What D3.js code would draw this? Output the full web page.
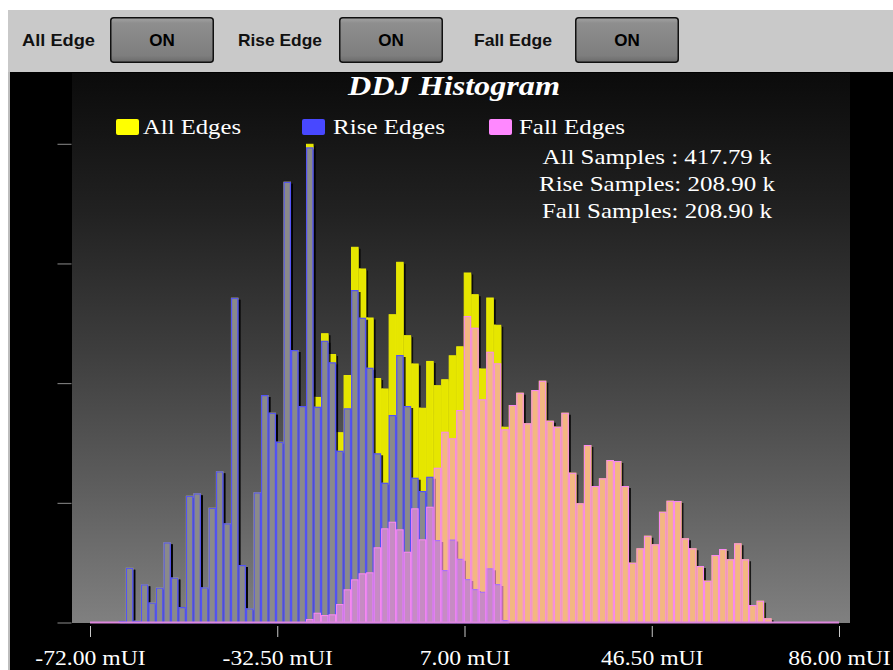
<!DOCTYPE html>
<html><head><meta charset="utf-8">
<script src="https://cdn.jsdelivr.net/npm/d3@7"></script>
<style>html,body{margin:0;padding:0;background:#fff;} svg{display:block;}</style>
</head><body><svg id="c" width="893" height="670"></svg>
<script>
// ---------------- DATA ----------------
const binStart = -66.03;   // mUI, left edge of first bin
const binWidth = 1.584;    // mUI per bin
const riseEdges = [42,1534,50,1070,560,980,2246,1260,434,3550,
  3618,986,3214,4234,2778,9094,1610,398,3646,6370,
  5874,5062,12342,7630,6062,13306,6042,7890,7286,4810,
  5998,9310,8534,7134,4738,3914,5810,7490,6062,4054,
  3682,4082,2310,1470,2324,1784,1218,938,862,1518,
  1078,70,0,0,0,0,0,0,0,0,
  0,0,0,0,0,0,0,0,0,0,
  0,0,0,0,0,0,0,0,0,0,
  0,0,0,0,0,0,0];
const fallEdges = [0,0,0,0,0,0,0,0,0,0,
  0,0,0,0,0,0,0,0,0,0,
  0,0,0,0,0,98,274,210,230,518,
  930,1210,1378,1406,2106,2638,2822,2610,1982,3198,
  2330,3242,4334,5342,5158,5950,8582,8254,6250,7582,
  7258,5410,6090,6434,5578,6510,6770,5650,5482,5874,
  4194,3338,4970,3822,4038,4550,4522,3822,1674,2078,
  2430,2190,3102,3410,3402,2358,2078,1582,1170,1890,
  2058,1770,2218,1770,490,610,118];
const allEdges = [42,1534,50,1070,560,980,2246,1260,434,3550,
  3618,986,3214,4234,2778,9094,1610,398,3646,6370,
  5874,5062,12342,7630,6062,13404,6316,8100,7516,5328,
  6928,10520,9912,8540,6844,6552,8632,10100,8044,7252,
  6012,7324,6644,6812,7482,7734,9800,9192,7112,9100,
  8336,5480,6090,6434,5578,6510,6770,5650,5482,5874,
  4194,3338,4970,3822,4038,4550,4522,3822,1674,2078,
  2430,2190,3102,3410,3402,2358,2078,1582,1170,1890,
  2058,1770,2218,1770,490,610,118];
const xDomain = [-72, 86];
const xTicks = [-72, -32.5, 7, 46.5, 86];
const yTickFractions = [0, 0.25, 0.5, 0.75, 1];
const toggleLabels = ["All Edge", "Rise Edge", "Fall Edge"];
const toggleStates = ["ON", "ON", "ON"];
const seriesNames = ["All Edges", "Rise Edges", "Fall Edges"];
const statLines = ["All Samples : 417.79 k", "Rise Samples: 208.90 k", "Fall Samples: 208.90 k"];
const chartTitle = "DDJ Histogram";

// ---------------- DRAW ----------------
const svg = d3.select("#c");
const defs = svg.append("defs");
const bgGrad = defs.append("linearGradient").attr("id","bg").attr("x1",0).attr("y1",0).attr("x2",0).attr("y2",1);
[[0,"#0b0b0b"],[0.25,"#212121"],[0.5,"#3d3d3d"],[0.75,"#5d5d5d"],[1,"#808080"]]
  .forEach(s => bgGrad.append("stop").attr("offset",s[0]).attr("stop-color",s[1]));
const btnGrad = defs.append("linearGradient").attr("id","btn").attr("x1",0).attr("y1",0).attr("x2",0).attr("y2",1);
[[0,"#a4a4a4"],[0.12,"#8e8e8e"],[0.85,"#7e7e7e"],[1,"#6a6a6a"]]
  .forEach(s => btnGrad.append("stop").attr("offset",s[0]).attr("stop-color",s[1]));
const f = defs.append("filter").attr("id","sh").attr("filterUnits","userSpaceOnUse")
  .attr("x",60).attr("y",60).attr("width",820).attr("height",580);
f.append("feDropShadow").attr("dx",2).attr("dy",2).attr("stdDeviation",0.6)
  .attr("flood-color","#000").attr("flood-opacity",0.8);

// top toolbar
svg.append("rect").attr("x",8).attr("y",10).attr("width",885).attr("height",62).attr("fill","#c9c9c9");
const labelX = [22, 238, 474], buttonX = [110, 339, 575], labelW = [73, 84, 78];
toggleLabels.forEach((t,i) => {
  svg.append("text").attr("x",labelX[i]).attr("y",46).text(t)
    .attr("font-family","'Liberation Sans', Arial, sans-serif").attr("font-weight","bold")
    .attr("font-size",17).attr("fill","#111")
    .attr("textLength",labelW[i]).attr("lengthAdjust","spacingAndGlyphs");
  svg.append("rect").attr("x",buttonX[i]+0.75).attr("y",17.75).attr("width",102.5).attr("height",44.5)
    .attr("rx",3).attr("fill","url(#btn)").attr("stroke","#111").attr("stroke-width",1.5);
  svg.append("text").attr("x",buttonX[i]+52).attr("y",46).attr("text-anchor","middle").text(toggleStates[i])
    .attr("font-family","'Liberation Sans', Arial, sans-serif").attr("font-weight","bold")
    .attr("font-size",17).attr("fill","#000");
});

// frame
svg.append("rect").attr("x",10).attr("y",72).attr("width",883).attr("height",598).attr("fill","#000");
svg.append("rect").attr("x",8).attr("y",72).attr("width",2).attr("height",598).attr("fill","#bdbdbd");
svg.append("rect").attr("x",72).attr("y",73).attr("width",778).attr("height",550).attr("fill","url(#bg)");

// scales
const x = d3.scaleLinear().domain(xDomain).range([90, 839]);
const maxAll = d3.max(allEdges);
const y = d3.scaleLinear().domain([0, maxAll * 1.1437]).range([622.5, 75]);

function drawSeries(values, cls, fill, stroke, sw, filter) {
  const g = svg.append("g").attr("class",cls);
  if (filter) g.attr("filter", filter);
  const data = values.map((v,i) => ({v, x0: binStart + i*binWidth, x1: binStart + (i+1)*binWidth}))
    .filter(d => d.v > 0);
  g.selectAll("rect").data(data).join("rect")
    .attr("x", d => x(d.x0) + sw/2)
    .attr("width", d => x(d.x1) - x(d.x0) - sw)
    .attr("y", d => Math.min(y(d.v) + sw/2, y(0) - 1))
    .attr("height", d => Math.max(1, y(0) - y(d.v) - sw/2))
    .attr("fill", fill).attr("stroke", stroke).attr("stroke-width", sw);
  return g;
}
drawSeries(allEdges, "all", "#e6e600", "#eeee00", 1, "url(#sh)");
drawSeries(riseEdges, "rise", "#8a8a8a", "#5252f5", 1.2, "url(#sh)");
drawSeries(fallEdges, "fall", "rgba(255,140,250,0.52)", "#f888f0", 1.1, null);

// baseline
svg.append("line").attr("x1", x(xDomain[0])).attr("x2", x(xDomain[1]))
  .attr("y1", y(0)).attr("y2", y(0)).attr("stroke","#dd88dd").attr("stroke-width",2);

// axes
const yAxis = svg.append("g").attr("transform","translate(71.5,0)")
  .call(d3.axisLeft(y).tickValues(yTickFractions.map(t => t*maxAll)).tickSize(14).tickFormat(""));
yAxis.select(".domain").remove();
yAxis.selectAll(".tick line").attr("stroke","#8c8c8c");

const xAxis = svg.append("g").attr("transform","translate(0,626)")
  .call(d3.axisBottom(x).tickValues(xTicks).tickSize(11).tickFormat(d => d.toFixed(2) + " mUI"));
xAxis.select(".domain").remove();
xAxis.selectAll(".tick line").attr("stroke","#c8c8c8");
xAxis.selectAll(".tick text").attr("y",39).attr("dy",0).attr("fill","#fff")
  .attr("font-family","'Liberation Serif', 'Times New Roman', serif").attr("font-size",21.5)
  .each(function() {
    const len = this.getComputedTextLength();
    d3.select(this).attr("textLength", len * 1.1).attr("lengthAdjust","spacingAndGlyphs");
  });

// title
svg.append("text").attr("x",454).attr("y",95).attr("text-anchor","middle").text(chartTitle)
  .attr("font-family","'Liberation Serif', 'Times New Roman', serif").attr("font-weight","bold")
  .attr("font-style","italic").attr("font-size",27).attr("fill","#fff")
  .attr("textLength",212).attr("lengthAdjust","spacingAndGlyphs");

// legend
const legColors = ["#ffff00", "#4848ff", "#ff88ff"];
const swX = [116, 302, 489], txX = [143, 333, 519], txW = [98, 112, 106];
seriesNames.forEach((n,i) => {
  svg.append("rect").attr("x",swX[i]).attr("y",119).attr("width",23).attr("height",16).attr("rx",2)
    .attr("fill",legColors[i]);
  svg.append("text").attr("x",txX[i]).attr("y",133.5).text(n)
    .attr("font-family","'Liberation Serif', 'Times New Roman', serif").attr("font-size",21.5)
    .attr("fill","#fff").attr("textLength",txW[i]).attr("lengthAdjust","spacingAndGlyphs");
});

// stats
const stY = [164.3, 190.7, 218.3], stW = [229, 236, 230];
statLines.forEach((s,i) => {
  svg.append("text").attr("x",657).attr("y",stY[i]).attr("text-anchor","middle").text(s)
    .attr("font-family","'Liberation Serif', 'Times New Roman', serif").attr("font-size",21.5)
    .attr("fill","#fff").attr("textLength",stW[i]).attr("lengthAdjust","spacingAndGlyphs");
});
</script></body></html>
